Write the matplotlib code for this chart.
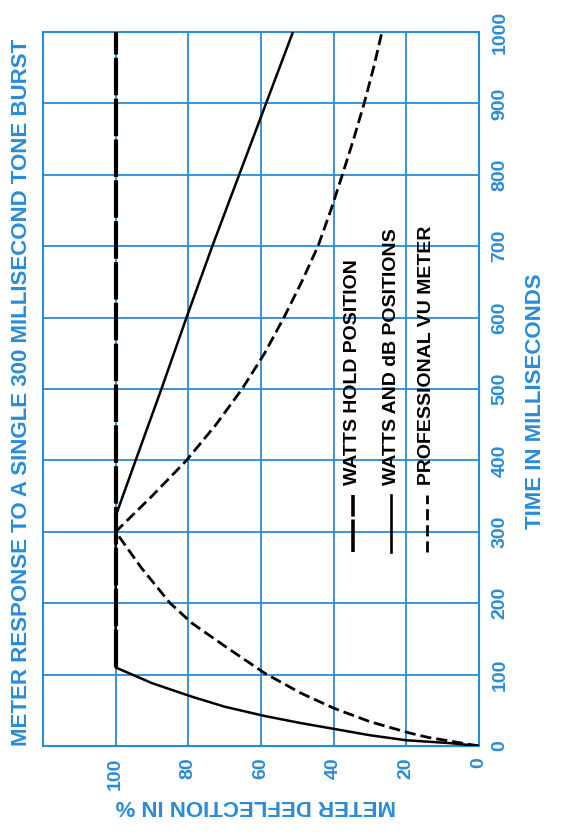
import matplotlib
matplotlib.use("Agg")
import matplotlib.pyplot as plt

plt.rcParams["font.family"] = ["Liberation Sans", "DejaVu Sans"]
plt.rcParams["font.weight"] = "bold"

blue = "#2a8bd6"

# watts and dB positions (solid)
db_time = [0, 4, 8, 15, 24, 32, 42, 55, 69, 88, 110, 322, 400, 500, 600, 700, 1000]
db_defl = [0, 8, 20, 30, 40, 49, 59, 70, 79, 90, 100, 100, 94.5, 87.4, 80.5, 73.4, 51.2]

# watts hold position (heavy long dash), held at full scale after the rise
hold_time = [110, 1000]
hold_defl = [100, 100]

# professional VU meter (dashed)
vu_time = [0, 12, 18, 34, 53, 74, 102, 140, 172, 200, 250, 300,
           350, 400, 450, 500, 550, 600, 650, 700, 750, 800, 850, 900, 950, 1000]
vu_defl = [0, 14, 19, 30, 40, 49, 59, 70, 79, 85, 93, 100,
           90, 80.5, 72.4, 65.2, 59, 53.7, 48.8, 44.3, 40.8, 37.6, 34.5, 31.6, 29, 26.7]

defl_ticks = [0, 20, 40, 60, 80, 100]
time_ticks = [0, 100, 200, 300, 400, 500, 600, 700, 800, 900, 1000]

legend_labels = ["WATTS HOLD POSITION", "WATTS AND dB POSITIONS", "PROFESSIONAL VU METER"]

fig = plt.figure(figsize=(5.64, 8.36), dpi=100)
ax = fig.add_axes([0.0762, 0.1077, 0.773, 0.854])

ax.plot(db_defl, db_time, color="black", lw=1.8, zorder=3)
ax.plot(vu_defl, vu_time, color="black", lw=2.0, dashes=(4.0, 1.8), zorder=3)
ax.plot(hold_defl, hold_time, color="black", lw=3.0, dashes=(9, 0.8), zorder=4)

ax.set_xlim(120, 0)
ax.set_ylim(0, 1000)
ax.set_xticks(defl_ticks + [120])
ax.set_yticks(time_ticks)
ax.grid(True, color=blue, lw=1.3)
for s in ax.spines.values():
    s.set_color(blue)
    s.set_linewidth(1.5)
ax.tick_params(length=0, labelbottom=False, labelleft=False)

# tick labels, rotated like the printed page
for d in defl_ticks:
    ax.text(d, -16, str(d), rotation=90, ha="center", va="top",
            color=blue, fontsize=14, fontweight="bold")
for t in time_ticks:
    ax.text(-5.8, t, str(t), rotation=90, ha="center", va="center",
            color=blue, fontsize=14, fontweight="bold")

fig.text(0.039, 0.531, "METER RESPONSE TO A SINGLE 300 MILLISECOND TONE BURST",
         rotation=90, ha="center", va="center", color=blue, fontsize=16, fontweight="bold")
fig.text(0.950, 0.52, "TIME IN MILLISECONDS", rotation=90, ha="center", va="center",
         color=blue, fontsize=16, fontweight="bold")
fig.text(0.454, 0.036, "METER DEFLECTION IN %", rotation=180, ha="center", va="center",
         color=blue, fontsize=16, fontweight="bold")

# legend written sideways inside the grid
legend_x = [34.7, 24.2, 14.3]
legend_styles = [dict(lw=2.6, dashes=(9, 0.8)), dict(lw=1.9), dict(lw=2.0, dashes=(4.0, 1.8))]
for x, lab, st in zip(legend_x, legend_labels, legend_styles):
    ax.plot([x, x], [272, 351], color="black", zorder=5, **st)
    ax.text(x, 366, lab, rotation=90, ha="center", va="bottom",
            color="black", fontsize=14, fontweight="bold", zorder=5)

fig.savefig("out.png", dpi=100)
